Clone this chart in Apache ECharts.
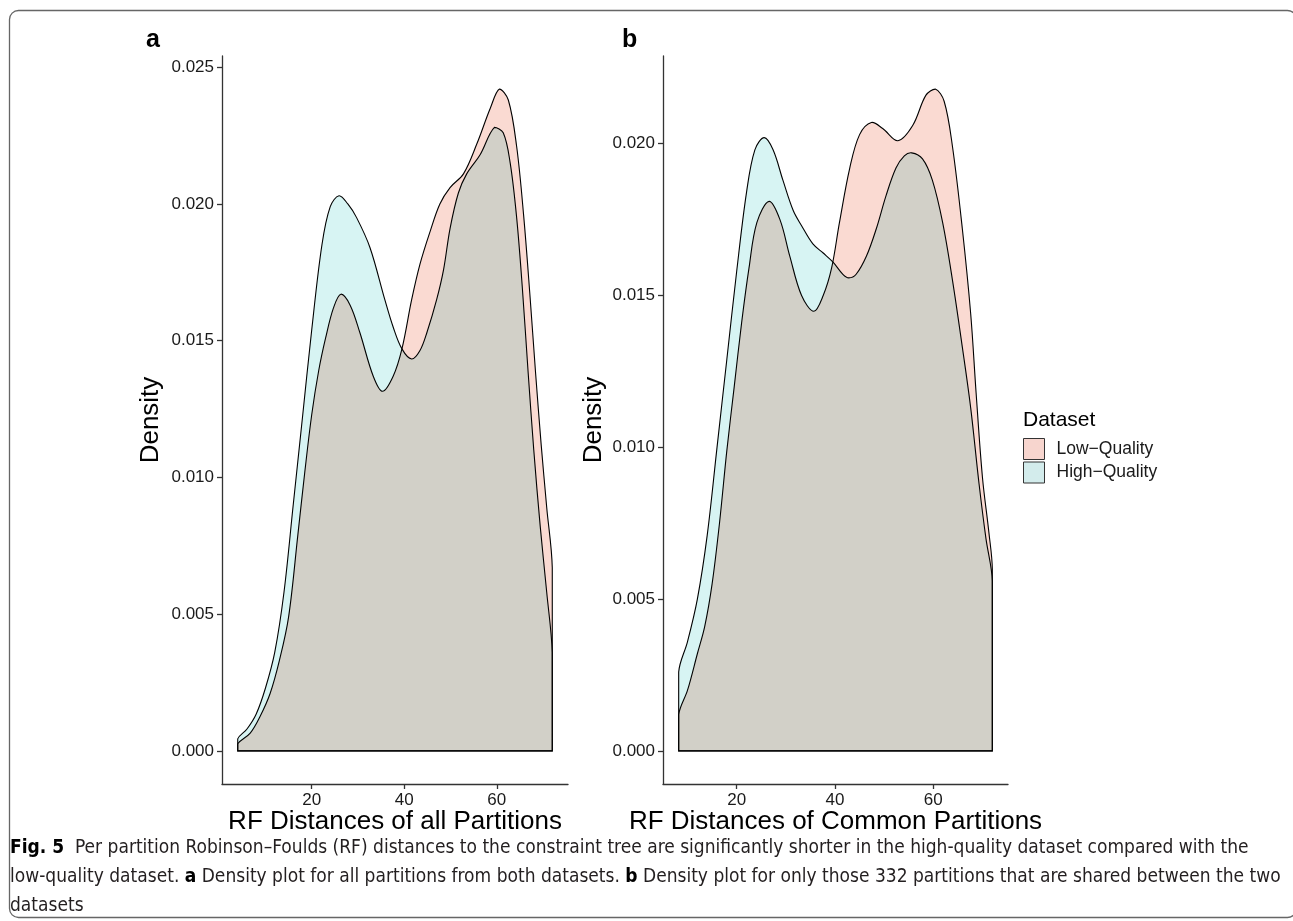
<!DOCTYPE html>
<html>
<head>
<meta charset="utf-8">
<script src="https://cdn.jsdelivr.net/npm/echarts@6/dist/echarts.min.js"></script>
<style>
  html, body { margin: 0; padding: 0; background: #fff; }
  #fig { width: 1293px; height: 921px; }
</style>
</head>
<body>
<div id="fig"></div>
<script>
// panel a: all partitions
var aLowX  = [4, 6.7, 8.8, 11, 13, 15, 17, 18.5, 20, 21.5, 23, 24.7, 26.3, 28.3, 30.4, 33.3, 35.3, 37.6, 39.5, 41.6, 43.4, 45.6, 47.7, 49.9, 52.8, 55.7, 58.6, 60.6, 62.5, 64.3, 65.8, 67.2, 68.4, 69.6, 70.8, 72];
var aLowY  = [0.00026, 0.00065, 0.00125, 0.0021, 0.0033, 0.0049, 0.0079, 0.0102, 0.0123, 0.0139, 0.0151, 0.0162, 0.0167, 0.0163, 0.0153, 0.0137, 0.01315, 0.0137, 0.0147, 0.0165, 0.0178, 0.0190, 0.0200, 0.0206, 0.0211, 0.0222, 0.0235, 0.0242, 0.0238, 0.0221, 0.0196, 0.0166, 0.0138, 0.0112, 0.0089, 0.0067];
var aHighX = [4, 6, 8, 10, 12, 14, 16, 18, 20, 22.2, 24, 25.9, 27.8, 29.7, 32.6, 35.8, 37.6, 39.5, 41.6, 43.4, 44.9, 47, 48.5, 49.9, 51.7, 53.5, 56.4, 59.5, 61.4, 62.9, 64.3, 65.5, 66.8, 68, 69.4, 70.8, 72];
var aHighY = [0.00044, 0.0008, 0.00135, 0.0023, 0.0036, 0.0058, 0.0090, 0.0122, 0.0154, 0.0185, 0.0199, 0.0203, 0.0200, 0.0195, 0.0184, 0.0165, 0.0155, 0.0147, 0.01433, 0.01464, 0.0153, 0.0165, 0.0176, 0.0191, 0.0204, 0.0211, 0.0218, 0.0228, 0.0226, 0.0215, 0.0195, 0.0170, 0.0138, 0.0110, 0.0082, 0.0058, 0.0036];

// panel b: common partitions
var bLowX  = [8.2, 10, 12, 13.5, 15, 16.5, 18, 19.5, 21, 22.5, 24.1, 26.6, 28.8, 30.8, 33.2, 35.7, 37.6, 39.3, 40.9, 43, 45, 47.4, 49.7, 52.8, 55.8, 58.5, 60.4, 62.2, 63.9, 65.9, 67.6, 68.7, 70, 71.3, 72];
var bLowY  = [0.0012, 0.0020, 0.0032, 0.0041, 0.0055, 0.0075, 0.0099, 0.0120, 0.0141, 0.0159, 0.0174, 0.0181, 0.0175, 0.0163, 0.0150, 0.01448, 0.0150, 0.0159, 0.0174, 0.0192, 0.0203, 0.0207, 0.0205, 0.0201, 0.0206, 0.0216, 0.0218, 0.0214, 0.0199, 0.0172, 0.0144, 0.0118, 0.0090, 0.0072, 0.0060];
var bHighX = [8.2, 10, 12, 14, 16, 18, 20, 22, 23.7, 25.6, 27.4, 29.4, 31.5, 33.2, 35.5, 37.6, 39.6, 41.6, 42.8, 44.3, 46.4, 48.4, 50.4, 52.4, 54.1, 55.6, 57.8, 59.8, 61.9, 63.9, 65.9, 67.6, 69.3, 70.7, 72];
var bHighY = [0.0026, 0.0036, 0.0050, 0.0071, 0.0100, 0.0129, 0.0158, 0.0184, 0.0198, 0.0202, 0.0198, 0.0188, 0.0178, 0.0173, 0.0167, 0.0164, 0.0161, 0.0157, 0.01558, 0.0157, 0.0163, 0.0172, 0.0183, 0.0192, 0.0196, 0.0197, 0.0195, 0.0188, 0.0174, 0.0155, 0.0133, 0.0113, 0.0088, 0.0070, 0.0056];

var xTicks  = [20, 40, 60];
var aYTicks = [0, 0.005, 0.010, 0.015, 0.020, 0.025];
var bYTicks = [0, 0.005, 0.010, 0.015, 0.020];

var lowName = 'Low\u2212Quality';
var highName = 'High\u2212Quality';
var lowFill = '#FADAD2';
var highFill = '#D7F4F3';
var font = '"Liberation Sans", Arial, sans-serif';
var capFont = '"Liberation Sans Narrow", "DejaVu Sans Condensed", sans-serif';

// density polygon incl. vertical ends and baseline, like geom_density
function densitySeries(name, xs, ys, fill, idx) {
  var pts = xs.map(function (x, i) { return [x, ys[i]]; });
  return {
    type: 'custom',
    name: name,
    xAxisIndex: idx,
    yAxisIndex: idx,
    data: pts,
    itemStyle: { color: fill },
    silent: true,
    renderItem: function (params, api) {
      if (params.dataIndex !== 0) return;
      var curve = pts.map(function (p) { return api.coord(p); });
      var x0 = curve[0][0], xe = curve[curve.length - 1][0];
      var base = api.coord([pts[0][0], 0])[1];
      var top = Math.min.apply(null, curve.map(function (c) { return c[1]; }));
      var poly = [[x0, base]].concat(curve, [[xe, base]]);
      return {
        type: 'polygon',
        shape: { points: poly, smooth: 0.35, smoothConstraint: [[x0, top], [xe, base]] },
        style: { fill: fill, stroke: '#000', lineWidth: 1.1 }
      };
    }
  };
}

function xAxisOf(idx, min, max, name) {
  return {
    type: 'value', gridIndex: idx, min: min, max: max,
    name: name, nameLocation: 'middle', nameGap: 25, nameMoveOverlap: false,
    nameTextStyle: { fontSize: 26, color: '#000', fontFamily: font },
    axisLine: { onZero: false, lineStyle: { color: '#333', width: 1.3 } },
    axisTick: { show: true, length: 5, customValues: xTicks, lineStyle: { color: '#333', width: 1.3 } },
    axisLabel: { customValues: xTicks, fontSize: 17, color: '#1a1a1a', margin: 8, fontFamily: font },
    splitLine: { show: false }
  };
}

function yAxisOf(idx, min, max, ticks, gap) {
  return {
    type: 'value', gridIndex: idx, min: min, max: max,
    name: 'Density', nameLocation: 'middle', nameGap: gap,
    nameTextStyle: { fontSize: 26, color: '#000', fontFamily: font },
    axisLine: { show: true, onZero: false, lineStyle: { color: '#333', width: 1.3 } },
    axisTick: { show: true, length: 5, customValues: ticks, lineStyle: { color: '#333', width: 1.3 } },
    axisLabel: {
      customValues: ticks, fontSize: 17, color: '#1a1a1a', margin: 8, fontFamily: font,
      formatter: function (v) { return v.toFixed(3); }
    },
    splitLine: { show: false }
  };
}

var chart = echarts.init(document.getElementById('fig'), null, { renderer: 'canvas' });

var option = {
  backgroundColor: '#fff',
  animation: false,
  grid: [
    { left: 222, top: 56, width: 346, height: 728, outerBoundsMode: 'none' },
    { left: 663, top: 56, width: 345, height: 728, outerBoundsMode: 'none' }
  ],
  xAxis: [
    xAxisOf(0, 0.6, 75.4, 'RF Distances of all Partitions'),
    xAxisOf(1, 5.01, 75.19, 'RF Distances of Common Partitions')
  ],
  yAxis: [
    yAxisOf(0, -0.00121, 0.02541, aYTicks, 58),
    yAxisOf(1, -0.00109, 0.02289, bYTicks, 56)
  ],
  legend: {
    orient: 'vertical', left: 1023, top: 438, padding: 0,
    itemWidth: 21, itemHeight: 21, itemGap: 1.5,
    selectedMode: false,
    data: [
      { name: lowName, icon: 'rect', itemStyle: { color: '#F7D5CE', borderColor: '#333', borderWidth: 1 } },
      { name: highName, icon: 'rect', itemStyle: { color: '#D3ECEC', borderColor: '#333', borderWidth: 1 } }
    ],
    textStyle: { fontSize: 17.5, color: '#1a1a1a', fontFamily: font, padding: [0, 0, 0, 7] }
  },
  series: [
    densitySeries(lowName, aLowX, aLowY, lowFill, 0),
    densitySeries(highName, aHighX, aHighY, highFill, 0),
    densitySeries(lowName, bLowX, bLowY, lowFill, 1),
    densitySeries(highName, bHighX, bHighY, highFill, 1)
  ],
  graphic: [
    {
      type: 'rect', silent: true,
      shape: { x: 9.5, y: 10.5, width: 1287, height: 907, r: 9 },
      style: { fill: 'none', stroke: '#666', lineWidth: 1.3 }
    },
    { type: 'text', left: 146, top: 28, style: { text: 'a', fontSize: 25, fontWeight: 'bold', fontFamily: font, fill: '#000' } },
    { type: 'text', left: 622, top: 28, style: { text: 'b', fontSize: 25, fontWeight: 'bold', fontFamily: font, fill: '#000' } },
    { type: 'text', left: 1023, top: 410, style: { text: 'Dataset', fontSize: 21, fontFamily: font, fill: '#000' } },
    {
      type: 'text', left: 10, top: 834,
      style: {
        text: '{b|Fig. 5}  Per partition Robinson\u2013Foulds (RF) distances to the constraint tree are significantly shorter in the high-quality dataset compared with the\n' +
              'low-quality dataset. {b|a} Density plot for all partitions from both datasets. {b|b} Density plot for only those 332 partitions that are shared between the two\n' +
              'datasets',
        fontSize: 19,
        fontFamily: capFont,
        fill: '#231f20',
        lineHeight: 29,
        rich: {
          b: { fontWeight: 'bold', fontSize: 19, fontFamily: capFont, fill: '#000', lineHeight: 29 }
        }
      }
    }
  ]
};

chart.setOption(option);

// overlapping densities: multiply the two fills so the shared part turns grey
chart.getZr().storage.getDisplayList(true).forEach(function (el) {
  if (el.style && (el.style.fill === lowFill || el.style.fill === highFill)) {
    el.style.blend = 'multiply';
    el.markRedraw();
  }
});
chart.getZr().refreshImmediately();
</script>
</body>
</html>
